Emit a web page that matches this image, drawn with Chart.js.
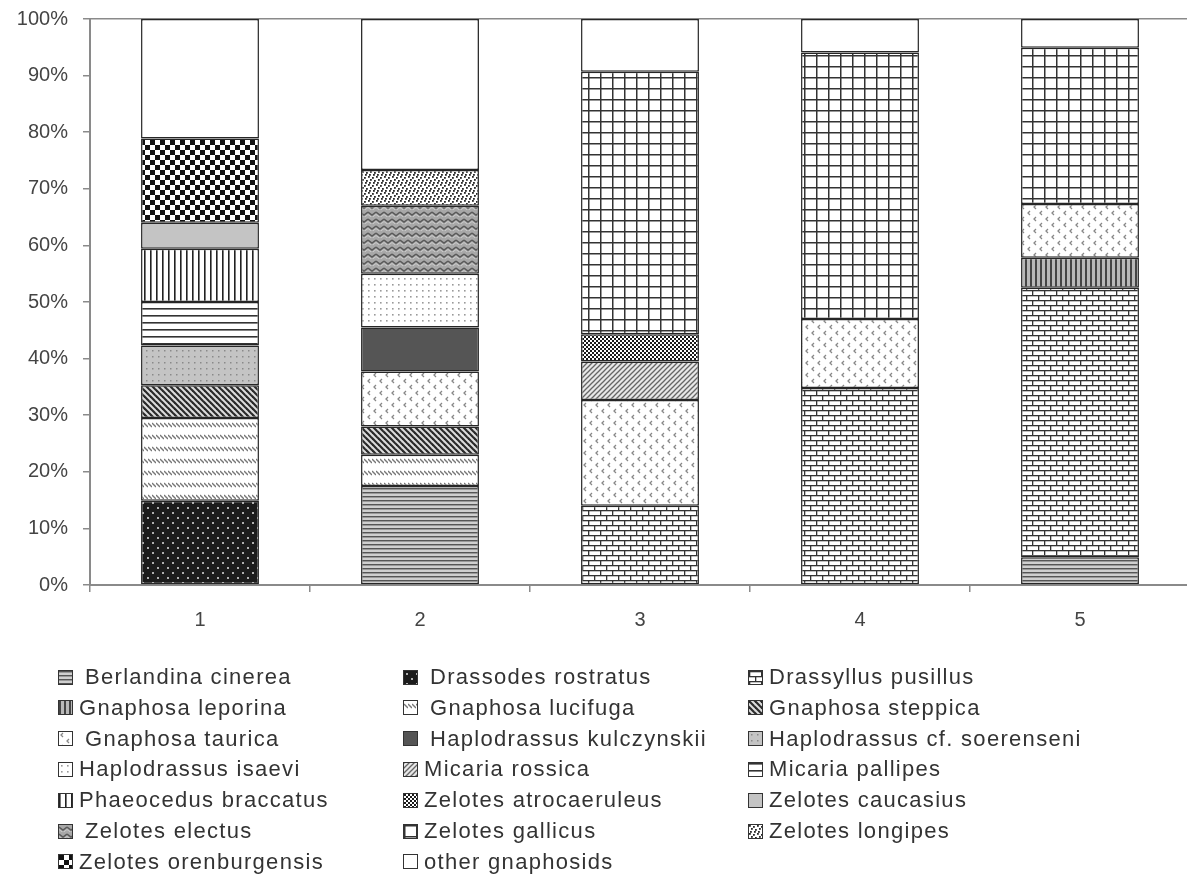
<!DOCTYPE html>
<html><head><meta charset="utf-8">
<script src="https://cdn.jsdelivr.net/npm/chart.js@4"></script>
<style>
html,body{margin:0;padding:0;background:#fff;overflow:hidden;width:1187px;height:876px;}
#wrap{position:absolute;left:0;top:0;width:1190px;height:640px;}
#legend{position:absolute;left:0;top:0;width:1187px;height:876px;font-family:"Liberation Sans",Arial,sans-serif;font-size:22px;letter-spacing:1.3px;color:#333;}
.item{position:absolute;display:flex;align-items:center;white-space:nowrap;height:30px;transform:translateY(-15px);}
.sw{width:13px;height:13px;border:1.5px solid #333;margin-right:6px;flex:none;background-color:#fff;}
</style></head><body>
<div id="wrap"><canvas id="c" width="1190" height="640"></canvas></div>
<div id="legend"></div>
<script>
// ---- data ----
const categories = ['1', '2', '3', '4', '5'];
const yTicks = [0, 10, 20, 30, 40, 50, 60, 70, 80, 90, 100];
const seriesNames = [
  'Berlandina cinerea', 'Drassodes rostratus', 'Drassyllus pusillus',
  'Gnaphosa leporina', 'Gnaphosa lucifuga', 'Gnaphosa steppica',
  'Gnaphosa taurica', 'Haplodrassus kulczynskii', 'Haplodrassus cf. soerenseni',
  'Haplodrassus isaevi', 'Micaria rossica', 'Micaria pallipes',
  'Phaeocedus braccatus', 'Zelotes atrocaeruleus', 'Zelotes caucasius',
  'Zelotes electus', 'Zelotes gallicus', 'Zelotes longipes',
  'Zelotes orenburgensis', 'other gnaphosids'
];
const berlandinaCinerea     = [null, 17.5, null, null, 4.9];
const drassodesRostratus    = [14.9, null, null, null, null];
const drassyllusPusillus    = [null, null, 14.0, 34.8, 47.6];
const gnaphosaLeporina      = [null, null, null, null, 5.3];
const gnaphosaLucifuga      = [14.6, 5.5, null, null, null];
const gnaphosaSteppica      = [5.8, 5.0, null, null, null];
const gnaphosaTaurica       = [null, 9.7, 18.7, 12.2, 9.5];
const haplodrassusKulczynskii = [null, 7.8, null, null, null];
const haplodrassusSoerenseni  = [7.0, null, null, null, null];
const haplodrassusIsaevi    = [null, 9.5, null, null, null];
const micariaRossica        = [null, null, 6.8, null, null];
const micariaPallipes       = [7.7, null, null, null, null];
const phaeocedusBraccatus   = [9.4, null, null, null, null];
const zelotesAtrocaeruleus  = [null, null, 4.8, null, null];
const zelotesCaucasius      = [4.6, null, null, null, null];
const zelotesElectus        = [null, 12.0, null, null, null];
const zelotesGallicus       = [null, null, 46.4, 47.1, 27.6];
const zelotesLongipes       = [null, 6.3, null, null, null];
const zelotesOrenburgensis  = [14.9, null, null, null, null];
const otherGnaphosids       = [21.1, 26.7, 9.3, 5.9, 5.1];

const seriesValues = [
  berlandinaCinerea, drassodesRostratus, drassyllusPusillus, gnaphosaLeporina,
  gnaphosaLucifuga, gnaphosaSteppica, gnaphosaTaurica, haplodrassusKulczynskii,
  haplodrassusSoerenseni, haplodrassusIsaevi, micariaRossica, micariaPallipes,
  phaeocedusBraccatus, zelotesAtrocaeruleus, zelotesCaucasius, zelotesElectus,
  zelotesGallicus, zelotesLongipes, zelotesOrenburgensis, otherGnaphosids
];

// ---- pattern tiles ----
function tile(w, h, bg, fn) {
  const c = document.createElement('canvas');
  c.width = w; c.height = h;
  const g = c.getContext('2d');
  g.fillStyle = bg; g.fillRect(0, 0, w, h);
  if (fn) fn(g, w, h);
  return c;
}
function line(g, pts, col, lw) {
  g.strokeStyle = col; g.lineWidth = lw; g.beginPath();
  g.moveTo(pts[0][0], pts[0][1]);
  for (let i = 1; i < pts.length; i++) g.lineTo(pts[i][0], pts[i][1]);
  g.stroke();
}
const tiles = [
  // Berlandina cinerea
  tile(4, 4, '#cfcfcf', g => { g.fillStyle = '#555'; g.fillRect(0, 0, 4, 1); g.fillStyle = '#999'; g.fillRect(0, 1, 4, 1); }),
  // Drassodes rostratus
  tile(10, 10, '#1c1c1c', g => { g.fillStyle = '#b0b0b0'; g.fillRect(2, 2, 2, 2); g.fillRect(7, 7, 2, 2); }),
  // Drassyllus pusillus (bricks)
  tile(12, 10, '#fff', g => { g.fillStyle = '#333'; g.fillRect(0, 0, 12, 1.3); g.fillRect(0, 5, 12, 1.3); g.fillRect(0, 0, 1.3, 5); g.fillRect(6, 5, 1.3, 5); }),
  // Gnaphosa leporina
  tile(5, 5, '#b8b8b8', g => { g.fillStyle = '#444'; g.fillRect(0, 0, 2, 5); }),
  // Gnaphosa lucifuga
  tile(4, 12, '#fff', g => { line(g, [[0, 3], [4, 7]], '#777', 1.3); }),
  // Gnaphosa steppica
  tile(6, 6, '#ddd', g => { line(g, [[-1, -1], [7, 7]], '#2a2a2a', 2.2); line(g, [[-1, 5], [1, 7]], '#2a2a2a', 2.2); line(g, [[5, -1], [7, 1]], '#2a2a2a', 2.2); }),
  // Gnaphosa taurica
  tile(12, 12, '#fff', g => { line(g, [[4, 1], [2, 3], [4, 5]], '#888', 1.3); line(g, [[10, 7], [8, 9], [10, 11]], '#888', 1.3); }),
  // Haplodrassus kulczynskii
  tile(2, 2, '#555'),
  // Haplodrassus cf. soerenseni
  tile(6, 6, '#c4c4c4', g => { g.fillStyle = '#8a8a8a'; g.fillRect(2, 2, 1.5, 1.5); }),
  // Haplodrassus isaevi
  tile(6, 6, '#fff', g => { g.fillStyle = '#9a9a9a'; g.fillRect(2, 2, 1.6, 1.6); }),
  // Micaria rossica
  tile(5, 5, '#e8e8e8', g => { line(g, [[-1, 6], [6, -1]], '#666', 1.3); line(g, [[-1, 1], [1, -1]], '#666', 1.3); line(g, [[4, 6], [6, 4]], '#666', 1.3); }),
  // Micaria pallipes
  tile(7, 7, '#fff', g => { g.fillStyle = '#333'; g.fillRect(0, 0, 7, 1.6); }),
  // Phaeocedus braccatus
  tile(6, 6, '#fff', g => { g.fillStyle = '#222'; g.fillRect(0, 0, 1.6, 6); }),
  // Zelotes atrocaeruleus
  tile(4, 4, '#fff', g => { g.fillStyle = '#1a1a1a'; g.fillRect(0, 0, 2, 2); g.fillRect(2, 2, 2, 2); }),
  // Zelotes caucasius
  tile(2, 2, '#c4c4c4'),
  // Zelotes electus
  tile(8, 7, '#a8a8a8', g => { line(g, [[0, 2], [4, 5], [8, 2]], '#5a5a5a', 1.4); line(g, [[0, 4.5], [4, 7.5], [8, 4.5]], '#cfcfcf', 0.9); }),
  // Zelotes gallicus
  tile(12, 11, '#fff', g => { g.fillStyle = '#333'; g.fillRect(0, 0, 12, 1.5); g.fillRect(0, 0, 1.5, 11); }),
  // Zelotes longipes
  tile(8, 8, '#fff', g => { g.fillStyle = '#2a2a2a'; [[0, 0], [4, 1], [2, 3], [6, 4], [1, 6], [5, 6]].forEach(p => g.fillRect(p[0], p[1], 1.8, 1.8)); }),
  // Zelotes orenburgensis
  tile(10, 10, '#fff', g => { g.fillStyle = '#111'; g.fillRect(0, 0, 5, 5); g.fillRect(5, 5, 5, 5); }),
  // other gnaphosids
  tile(2, 2, '#fff')
];

const canvas = document.getElementById('c');
const ctx = canvas.getContext('2d');
const patterns = tiles.map(t => ctx.createPattern(t, 'repeat'));

const datasets = seriesNames.map((name, i) => ({
  label: name,
  data: seriesValues[i],
  backgroundColor: patterns[i],
  borderColor: '#262626',
  borderWidth: 1.5,
  borderSkipped: false,
  barPercentage: 0.536,
  categoryPercentage: 1.0
}));

new Chart(ctx, {
  type: 'bar',
  data: { labels: categories, datasets },
  options: {
    responsive: false,
    animation: false,
    devicePixelRatio: 1,
    layout: { padding: { top: 19, right: 0, bottom: 0, left: 0 } },
    plugins: { legend: { display: false }, tooltip: { enabled: false } },
    scales: {
      x: {
        stacked: true,
        afterFit: s => { s.height = 55; s.paddingLeft = 0; s.paddingRight = 0; },
        grid: { offset: true, drawOnChartArea: false, tickLength: 7, color: '#8a8a8a', lineWidth: 1.5 },
        border: { color: '#8a8a8a', width: 2 },
        ticks: { color: '#444', padding: 16, font: { family: '"Liberation Sans", Arial, sans-serif', size: 20 } }
      },
      y: {
        stacked: true,
        min: 0, max: 100,
        afterFit: s => { s.width = 90; s.paddingTop = 0; s.paddingBottom = 0; },
        afterBuildTicks: s => { s.ticks = yTicks.map(v => ({ value: v })); },
        grid: {
          tickLength: 7,
          color: c => (c.tick && c.tick.value === 100 ? '#8a8a8a' : 'rgba(0,0,0,0)'),
          tickColor: '#8a8a8a',
          lineWidth: 1.5
        },
        border: { color: '#8a8a8a', width: 2 },
        ticks: {
          color: '#444', padding: 15,
          font: { family: '"Liberation Sans", Arial, sans-serif', size: 20 },
          callback: v => v + '%'
        }
      }
    }
  }
});

// ---- HTML legend (3 columns, built from the series names) ----
const legend = document.getElementById('legend');
const colX = [58, 403, 748];
const rowY0 = 677, rowStep = 30.8;
const spacedEntries = [0, 1, 4, 6, 7, 15];
seriesNames.forEach((name, i) => {
  const it = document.createElement('div');
  it.className = 'item';
  it.style.left = colX[i % 3] + 'px';
  it.style.top = (rowY0 + Math.floor(i / 3) * rowStep) + 'px';
  const sw = document.createElement('span');
  sw.className = 'sw';
  sw.style.backgroundImage = 'url(' + tiles[i].toDataURL() + ')';
  if (spacedEntries.includes(i)) sw.style.marginRight = '12px';
  const tx = document.createElement('span');
  tx.textContent = name;
  it.appendChild(sw); it.appendChild(tx);
  legend.appendChild(it);
});
</script>
</body></html>
